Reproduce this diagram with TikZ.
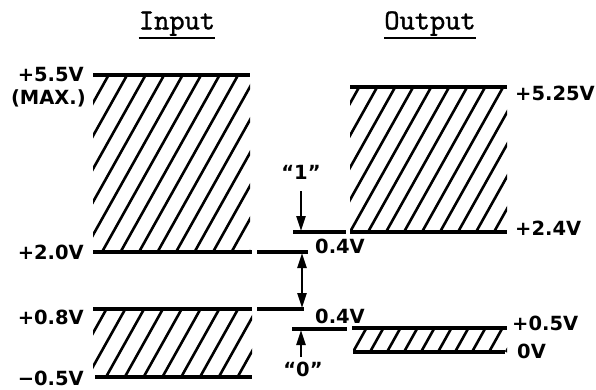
\documentclass[tikz,border=0pt]{standalone}
\usepackage{fontspec}
\setsansfont{DejaVu Sans}
\newfontfamily\titlefont{lmmono10-regular.otf}[FakeBold=1.2]
\usetikzlibrary{arrows.meta}
\newcommand\hatchblock[6]{%
  \begin{scope}
    \clip (#1,#2) rectangle (#3,#4);
    \foreach \k in {-12,...,10} {
      \draw[hatchline] ({#1+#5+\k*#6},#4) -- ++({(#4-#2)*0.56},{-(#4-#2)});
    }
  \end{scope}}
\begin{document}
\begin{tikzpicture}[x=1pt,y=-1pt,
  lvl/.style={line width=3.2pt},
  hatchline/.style={line width=2.6pt},
  lab/.style={font=\sffamily\bfseries\fontsize{19.5}{19.5}\selectfont, inner sep=0pt},
  ttl/.style={font=\titlefont\fontsize{29}{29}\selectfont, inner sep=0pt},
  tip/.tip={Triangle[length=15pt,width=9pt]},
  arr/.style={line width=2.6pt, -tip},
  darr/.style={line width=2.6pt, tip-tip},
]
\useasboundingbox (0,0) rectangle (596,390);

% titles
\node[ttl, anchor=south] (tin) at (177,36) {Input};
\node[ttl, anchor=south] (tout) at (430,36) {Output};
\draw[line width=1.8pt] ([yshift=-2pt]tin.south west) -- ([yshift=-2pt]tin.south east);
\draw[line width=1.8pt] ([yshift=-2pt]tout.south west) -- ([yshift=-2pt]tout.south east);

% hatching
\hatchblock{93}{75}{250}{252}{9}{18.5}
\hatchblock{93}{309}{252}{377}{13}{18.8}
\hatchblock{350}{87}{507}{232}{0}{18}
\hatchblock{353}{328}{507}{352}{0}{17}

% level lines, input
\draw[lvl] (93,75) -- (250,75);
\draw[lvl] (93,252) -- (252,252);
\draw[lvl] (257,252) -- (308,252);
\draw[lvl] (93,309) -- (252,309);
\draw[lvl] (257,309) -- (304,309);
\draw[lvl] (95,377) -- (252,377);

% level lines, output
\draw[lvl] (350,87) -- (507,87);
\draw[lvl] (293,232) -- (346,232);
\draw[lvl] (350,232) -- (507,232);
\draw[lvl] (292,329) -- (347,329);
\draw[lvl] (352,328) -- (507,328);
\draw[lvl] (353,352) -- (505,352);

% arrows
\coordinate (a1s) at (301,191);
\coordinate (a1e) at (301,231);
\draw[arr] (a1s) -- (a1e);
\coordinate (dms) at (302,253);
\coordinate (dme) at (302,308);
\draw[darr] (dms) -- (dme);
\coordinate (a0s) at (301,357);
\coordinate (a0e) at (301,330);
\draw[arr] (a0s) -- (a0e);

% left labels
\node[lab, anchor=east] (l55) at (84,75) {+5.5V};
\node[lab, anchor=east] (lmax) at (86,98) {(MAX.)};
\node[lab, anchor=east] (l20) at (84,252) {+2.0V};
\node[lab, anchor=east] (l08) at (84,317) {+0.8V};
\node[lab, anchor=east] (l05) at (84,378) {−0.5V};

% right labels
\node[lab, anchor=west] (r525) at (515,93) {+5.25V};
\node[lab, anchor=west] (r24) at (515,228) {+2.4V};
\node[lab, anchor=west] (r05) at (512,323) {+0.5V};
\node[lab, anchor=west] (r0) at (517,351) {0V};

% middle labels
\node[lab] (m1) at (340,246) {0.4V};
\node[lab] (m2) at (340,316) {0.4V};
\node[lab] (q1) at (301,172) {\textquotedblleft1\textquotedblright};
\node[lab] (q0) at (303,369) {\textquotedblleft0\textquotedblright};
\end{tikzpicture}
\end{document}
